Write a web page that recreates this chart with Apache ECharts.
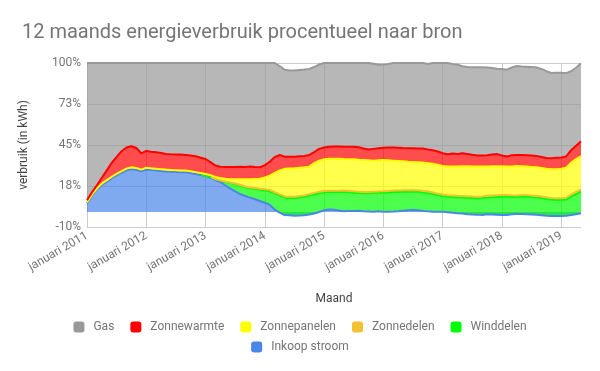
<!DOCTYPE html>
<html>
<head>
<meta charset="utf-8">
<script src="https://cdn.jsdelivr.net/npm/echarts@6/dist/echarts.min.js"></script>
<style>
html,body{margin:0;padding:0;background:#ffffff;}
#chart{width:600px;height:371px;}
</style>
</head>
<body>
<div id="chart"></div>
<script>
const titleText = '12 maands energieverbruik procentueel naar bron';
const maanden = ['januari','februari','maart','april','mei','juni','juli','augustus','september','oktober','november','december'];
const startJaar = 2011;
const yTicks = [-10, 17.5, 45, 72.5, 100];

const inkoopStroom = [
  6.0, 11.0, 15.0, 18.2, 20.4, 22.7, 24.6, 26.4, 28.0, 28.8,
  28.4, 27.4, 28.6, 28.2, 27.9, 27.6, 27.3, 27.1, 26.9, 26.7,
  26.7, 26.2, 25.6, 24.9, 24.2, 23.2, 21.5, 20.2, 18.0, 15.7,
  13.9, 12.1, 10.8, 9.7, 8.6, 7.4, 6.3, 4.8, 1.7, -0.3,
  -2.0, -2.2, -2.4, -2.3, -2.1, -1.6, -0.9, 0.1, 1.2, 1.7,
  1.6, 1.0, 0.6, 0.7, 0.8, 0.9, 0.5, 0.4, 0.3, 0.6,
  0.3, 0.3, 0.4, 0.6, 0.9, 1.2, 1.4, 1.2, 0.8, 0.5,
  0.3, 0.3, 0.3, -0.1, -0.5, -0.8, -1.0, -1.4, -1.6, -1.7,
  -2.0, -1.5, -1.6, -1.8, -2.0, -1.9, -1.5, -1.3, -1.3, -1.4,
  -1.6, -1.8, -2.2, -2.5, -2.6, -2.6, -2.6, -2.5, -2.0, -1.4,
  -0.8
];
const winddelen = [
  0, 0, 0, 0, 0, 0, 0, 0, 0, 0,
  0, 0, 0, 0, 0, 0, 0, 0, 0, 0,
  0, 0, 0, 0, 0.1, 0.4, 0.6, 0.9, 2.2, 3.8,
  4.9, 5.7, 5.9, 6.2, 6.8, 7.5, 8.3, 9.2, 10.8, 11.5,
  11.7, 11.6, 11.8, 12.2, 12.4, 12.7, 12.9, 12.6, 12.1, 11.7,
  11.8, 12.4, 12.9, 12.6, 12.2, 11.9, 12.1, 12.2, 12.5, 12.3,
  12.7, 12.8, 13.0, 12.9, 12.7, 12.5, 12.4, 12.4, 12.4, 12.3,
  11.9, 11.1, 10.5, 10.4, 10.7, 10.7, 10.8, 11.0, 11.0, 11.0,
  11.5, 11.3, 11.6, 12.0, 12.3, 12.3, 11.7, 11.4, 11.6, 11.8,
  11.7, 11.7, 11.6, 11.3, 11.0, 10.7, 10.7, 10.9, 12.5, 13.5,
  14.6
];
const zonnedelen = [
  0, 0, 0, 0, 0, 0, 0, 0, 0, 0,
  0, 0, 0, 0, 0, 0, 0, 0, 0, 0,
  0, 0, 0, 0, 0, 0, 0.1, 0.2, 0.3, 0.3,
  0.4, 0.5, 0.5, 0.6, 0.7, 0.7, 0.8, 0.8, 0.8, 0.8,
  0.8, 0.9, 0.9, 0.9, 0.9, 0.9, 0.9, 0.9, 0.9, 0.9,
  0.9, 0.9, 0.9, 0.9, 0.9, 0.9, 0.9, 0.9, 0.9, 0.9,
  0.9, 1.0, 1.0, 1.0, 1.0, 1.0, 1.0, 1.0, 1.0, 1.0,
  1.0, 1.0, 1.0, 1.0, 1.0, 1.0, 1.0, 1.0, 1.0, 1.0,
  1.0, 1.1, 1.1, 1.1, 1.1, 1.1, 1.1, 1.1, 1.1, 1.1,
  1.1, 1.1, 1.1, 1.1, 1.1, 1.1, 1.1, 1.2, 1.3, 1.4,
  1.5
];
const zonnepanelen = [
  0.6, 0.7, 0.8, 0.9, 1.0, 1.0, 1.1, 1.1, 1.2, 1.2,
  1.2, 1.1, 1.2, 1.2, 1.2, 1.2, 1.2, 1.2, 1.2, 1.2,
  1.2, 1.2, 1.2, 1.3, 1.2, 1.2, 1.3, 1.5, 1.8, 2.3,
  2.8, 3.7, 4.8, 5.5, 6.1, 6.8, 7.8, 9.7, 13.0, 16.0,
  18.5, 19.0, 19.1, 18.9, 18.8, 18.5, 19.9, 20.9, 21.2, 21.4,
  21.5, 21.5, 21.2, 21.3, 21.5, 21.4, 21.4, 21.2, 20.8, 20.9,
  21.0, 20.6, 20.1, 19.8, 19.5, 19.1, 18.8, 18.8, 19.0, 19.0,
  19.2, 19.4, 19.2, 19.3, 19.3, 19.7, 20.0, 20.1, 20.1, 20.2,
  20.0, 19.7, 19.7, 19.5, 19.3, 19.0, 19.3, 19.7, 19.3, 19.0,
  19.1, 19.1, 19.1, 19.1, 19.2, 19.6, 19.9, 20.2, 21.4, 22.0,
  22.3
];
const zonnewarmte = [
  1.4, 1.5, 2.2, 3.9, 6.6, 9.3, 11.3, 13.3, 14.1, 14.2,
  13.4, 10.9, 11.2, 11.1, 11.0, 10.8, 10.5, 10.5, 10.6, 10.7,
  10.4, 10.6, 10.6, 10.3, 10.1, 8.7, 7.7, 7.6, 7.9, 8.1,
  8.2, 8.4, 8.2, 8.6, 8.0, 7.6, 8.3, 9.3, 10.6, 10.3,
  8.2, 7.9, 7.8, 7.7, 7.6, 7.8, 7.4, 7.9, 7.9, 8.1,
  8.2, 8.2, 8.3, 8.4, 8.5, 8.4, 7.7, 7.3, 7.9, 8.1,
  8.3, 8.7, 8.9, 8.9, 8.9, 9.1, 9.2, 9.3, 9.4, 9.2,
  9.1, 8.8, 8.5, 8.2, 8.8, 8.4, 8.7, 8.3, 7.9, 7.4,
  7.5, 7.6, 7.8, 8.1, 7.3, 6.8, 7.5, 7.4, 7.6, 7.6,
  7.6, 7.6, 7.4, 7.3, 7.4, 7.6, 7.5, 7.5, 8.3, 9.0,
  9.9
];
const gas = [
  92.0, 86.8, 82.0, 77.0, 72.0, 67.0, 63.0, 59.2, 56.7, 55.8,
  57.0, 60.6, 59.0, 59.5, 59.9, 60.4, 61.0, 61.2, 61.3, 61.4,
  61.7, 62.0, 62.6, 63.5, 64.4, 66.5, 68.8, 69.6, 69.8, 69.8,
  69.8, 69.6, 69.8, 69.4, 69.8, 70.0, 68.5, 66.2, 63.1, 59.7,
  58.3, 57.8, 57.8, 57.9, 58.0, 57.7, 57.1, 56.6, 56.7, 56.2,
  56.0, 56.0, 56.1, 56.1, 56.1, 56.5, 57.4, 58.0, 57.1, 56.0,
  55.6, 55.9, 56.6, 56.8, 57.0, 57.1, 57.2, 57.3, 57.4, 57.3,
  58.5, 59.4, 60.5, 61.2, 60.0, 59.8, 58.3, 58.3, 58.7, 59.2,
  59.1, 58.8, 58.0, 57.3, 58.0, 58.2, 58.9, 59.7, 59.4, 59.4,
  59.4, 59.3, 59.0, 58.2, 57.2, 57.1, 56.9, 55.9, 53.0, 52.3,
  52.3
];

const categories = inkoopStroom.map((_, i) => maanden[i % 12] + ' ' + (startJaar + Math.floor(i / 12)));
const isJanuari = (i) => i % 12 === 0;

const FONT = 'Roboto';
const chart = echarts.init(document.getElementById('chart'), null, { renderer: 'canvas' });

function serie(name, data, color) {
  return {
    name: name,
    type: 'line',
    data: data,
    stack: 'totaal',
    stackStrategy: 'all',
    showSymbol: false,
    symbol: 'none',
    smooth: false,
    color: color,
    itemStyle: { color: color },
    lineStyle: { width: 2, color: color },
    areaStyle: { color: color, opacity: 0.7 },
    emphasis: { disabled: true }
  };
}

function firstNonZero(arr) {
  for (let i = 0; i < arr.length; i++) if (arr[i] !== 0) return i;
  return arr.length;
}

const option = {
  animation: false,
  textStyle: { fontFamily: FONT },
  title: {
    text: titleText,
    left: 17,
    top: 18,
    textStyle: { fontFamily: FONT, fontSize: 20, fontWeight: 'normal', color: '#757575' }
  },
  grid: { left: 87, right: 19, top: 63, bottom: 144, containLabel: false },
  legend: [
    {
      data: ['Gas', 'Zonnewarmte', 'Zonnepanelen', 'Zonnedelen', 'Winddelen'],
      left: 'center', top: 316, icon: 'roundRect',
      itemWidth: 11, itemHeight: 11, itemGap: 16,
      textStyle: { fontFamily: FONT, fontSize: 12, color: '#757575', padding: [0, 0, 0, 4] },
      selectedMode: false
    },
    {
      data: ['Inkoop stroom'],
      left: 'center', top: 336, icon: 'roundRect',
      itemWidth: 11, itemHeight: 11, itemGap: 16,
      textStyle: { fontFamily: FONT, fontSize: 12, color: '#757575', padding: [0, 0, 0, 4] },
      selectedMode: false
    }
  ],
  xAxis: {
    type: 'category',
    data: categories,
    boundaryGap: false,
    name: 'Maand',
    nameLocation: 'middle',
    nameGap: 66,
    nameTextStyle: { fontFamily: FONT, fontSize: 12, color: '#444444' },
    axisLine: { show: false },
    axisTick: { show: false },
    axisLabel: {
      interval: (i) => isJanuari(i),
      rotate: 30,
      margin: 8,
      fontFamily: FONT,
      fontSize: 12,
      color: '#757575'
    },
    splitLine: {
      show: true,
      interval: (i) => isJanuari(i),
      lineStyle: { color: '#cccccc', width: 1 }
    }
  },
  yAxis: {
    type: 'value',
    min: -10,
    max: 100,
    name: 'verbruik (in kWh)',
    nameLocation: 'middle',
    nameGap: 57,
    nameTextStyle: { fontFamily: FONT, fontSize: 12, color: '#444444' },
    axisLine: { show: false },
    axisTick: { show: false, customValues: yTicks },
    axisLabel: {
      customValues: yTicks,
      margin: 6,
      fontFamily: FONT,
      fontSize: 12,
      color: '#757575',
      formatter: (v) => Math.round(v) + '%'
    },
    splitLine: { show: true, lineStyle: { color: '#cccccc', width: 1 } }
  },
  series: [
    serie('Inkoop stroom', inkoopStroom, '#4a86e8'),
    serie('Winddelen', winddelen, '#00ff00'),
    serie('Zonnedelen', zonnedelen, '#f1c232'),
    serie('Zonnepanelen', zonnepanelen, '#ffff00'),
    serie('Zonnewarmte', zonnewarmte, '#ff0000'),
    serie('Gas', gas, '#999999')
  ]
};
chart.setOption(option);

// Hide the line of a series before it starts (the reference shows no line there),
// using a gradient whose stop is placed via the library's own x scale.
function fadeBefore(seriesIndex, arr, rgb) {
  const start = firstNonZero(arr);
  if (start <= 0 || start >= arr.length) return;
  const xs = chart.convertToPixel({ xAxisIndex: 0 }, start - 1);
  const x0 = chart.convertToPixel({ xAxisIndex: 0 }, 0);
  const x1 = chart.convertToPixel({ xAxisIndex: 0 }, arr.length - 1);
  const f = (xs - x0) / (x1 - x0);
  const grad = new echarts.graphic.LinearGradient(x0, 0, x1, 0, [
    { offset: 0, color: 'rgba(' + rgb + ',0)' },
    { offset: f, color: 'rgba(' + rgb + ',0)' },
    { offset: Math.min(1, f + 0.0001), color: 'rgba(' + rgb + ',1)' },
    { offset: 1, color: 'rgba(' + rgb + ',1)' }
  ], true);
  const upd = { series: [] };
  for (let i = 0; i < option.series.length; i++) upd.series.push({});
  upd.series[seriesIndex] = { lineStyle: { color: grad } };
  chart.setOption(upd);
}
fadeBefore(1, winddelen, '0,255,0');
fadeBefore(2, zonnedelen, '241,194,50');
</script>
</body>
</html>
